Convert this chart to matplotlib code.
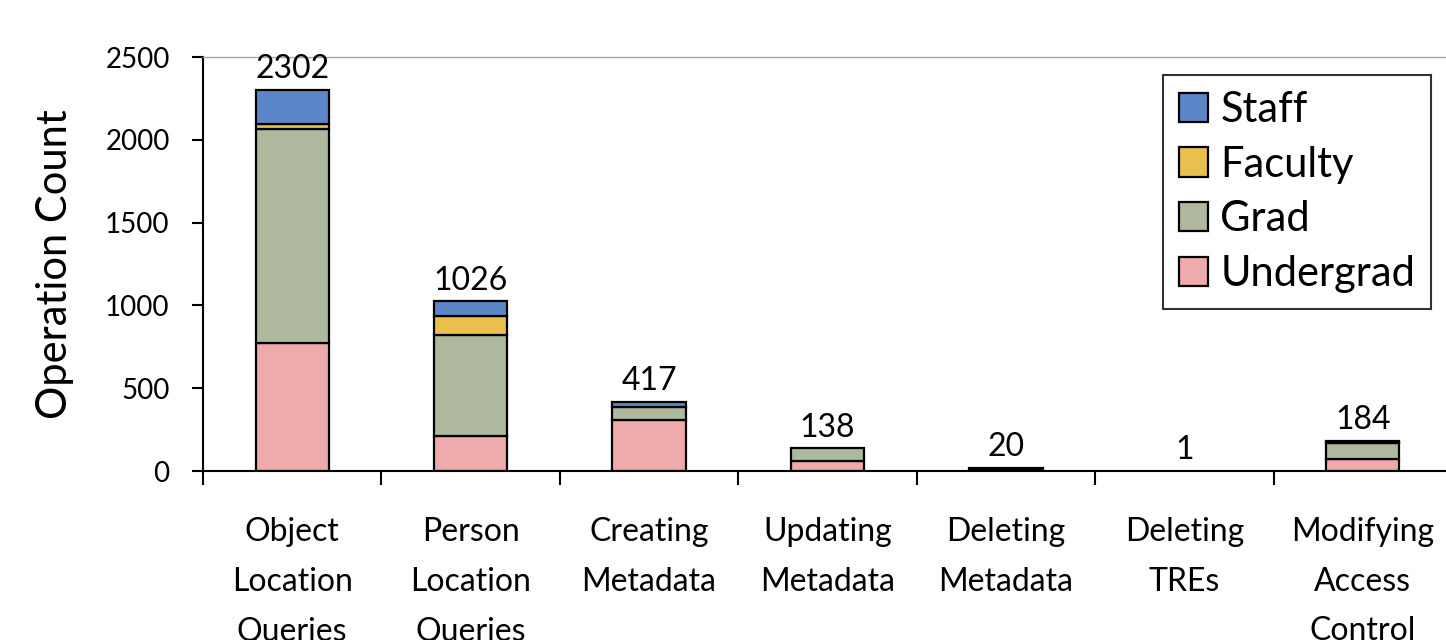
import matplotlib
matplotlib.use("Agg")
import matplotlib.pyplot as plt
import numpy as np

categories = ["Object\nLocation\nQueries", "Person\nLocation\nQueries", "Creating\nMetadata",
              "Updating\nMetadata", "Deleting\nMetadata", "Deleting\nTREs", "Modifying\nAccess\nControl"]
undergrad = [775, 212, 305, 62, 8, 0, 75]
grad = [1290, 610, 83, 76, 12, 1, 97]
faculty = [30, 115, 0, 0, 0, 0, 4]
staff = [207, 89, 29, 0, 0, 0, 8]
totals = [2302, 1026, 417, 138, 20, 1, 184]
series_names = ["Undergrad", "Grad", "Faculty", "Staff"]
colors = {"Staff": "#5B87C9", "Faculty": "#E9BF4D", "Grad": "#ADB89C", "Undergrad": "#EFABAB"}

plt.rcParams['font.family'] = ['Lato', 'DejaVu Sans']

fig = plt.figure(figsize=(14.46, 6.4), dpi=100)
ax = fig.add_axes([203/1446, 1-471/640, 1249/1446, 414/640])

x = np.arange(len(categories))
bottom = np.zeros(len(categories))
handles = {}
for name, vals in zip(series_names, [undergrad, grad, faculty, staff]):
    v = np.array(vals, dtype=float)
    lw = [1.6 if vv >= 2 else 0.0 for vv in v]
    h = ax.bar(x, v, width=0.41, bottom=bottom, color=colors[name], edgecolor="black", linewidth=lw, label=name)
    handles[name] = h
    bottom += v

for xi, t in zip(x, totals):
    ax.annotate(str(t), (xi, max(bottom[xi], t)), xytext=(0, 4), textcoords="offset points",
                ha="center", va="bottom", fontsize=23)

ax.set_xlim(-0.5, 6.5)
ax.set_ylim(0, 2500)
ax.set_yticks([0, 500, 1000, 1500, 2000, 2500])
ax.tick_params(axis="y", labelsize=20, direction="out", length=8, width=1.5, pad=16)
ax.set_xticks(np.arange(-0.5, 7.0, 1.0))
ax.set_xticklabels([])
ax.tick_params(axis="x", which="major", direction="out", length=10, width=1.5)
ax.set_xticks(x, minor=True)
ax.set_xticklabels(categories, minor=True, fontsize=23, linespacing=1.82)
ax.tick_params(axis="x", which="minor", length=0, pad=33)
ax.set_ylabel("Operation Count", fontsize=30)
ax.yaxis.set_label_coords((74-203)/1249, 0.5)

for s in ["left", "bottom"]:
    ax.spines[s].set_linewidth(1.5)
    ax.spines[s].set_color("black")
ax.spines["top"].set_color("#a6a6a6")
ax.spines["top"].set_linewidth(1.0)
ax.spines["right"].set_visible(False)

h_leg = [handles[n] for n in ["Staff", "Faculty", "Grad", "Undergrad"]]
leg = ax.legend(h_leg, ["Staff", "Faculty", "Grad", "Undergrad"],
                loc="upper left", bbox_to_anchor=((1163-203)/1249, 1 - 18/414),
                fontsize=30, frameon=True, fancybox=False, handlelength=0.7, handleheight=0.7,
                handletextpad=0.3, borderpad=0.38, labelspacing=0.4, borderaxespad=0)
leg.get_frame().set_edgecolor("black")
leg.get_frame().set_linewidth(1.5)
for lh in leg.legend_handles:
    lh.set_linewidth(1.6)

fig.savefig("out.png", dpi=100)
